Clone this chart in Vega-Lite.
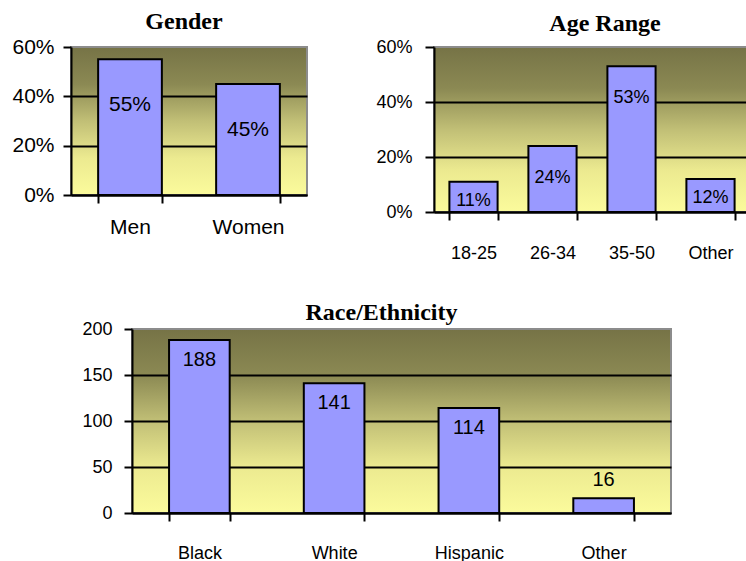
{
  "$schema": "https://vega.github.io/schema/vega-lite/v6.json",
  "padding": {"left": 7, "top": 9, "right": 0, "bottom": 0},
  "background": "white",
  "datasets": {
    "gender": [{"gender": "Men", "share": 0.55}, {"gender": "Women", "share": 0.45}],
    "age": [{"age": "18-25", "share": 0.11}, {"age": "26-34", "share": 0.24}, {"age": "35-50", "share": 0.53}, {"age": "Other", "share": 0.12}],
    "race": [{"race": "Black", "count": 188}, {"race": "White", "count": 141}, {"race": "Hispanic", "count": 114}, {"race": "Other", "count": 16}]
  },
  "spacing": 37,
  "vconcat": [
    {
      "spacing": 66,
      "hconcat": [
        {
          "width": 236,
          "height": 148,
          "title": {"text": "Gender", "font": "Liberation Serif", "fontSize": 24, "fontWeight": "bold", "color": "black", "baseline": "alphabetic", "frame": "group", "offset": -17, "dx": -5},
          "view": {"fill": {"gradient": "linear", "x1": 0, "y1": 0, "x2": 0, "y2": 1, "stops": [{"offset": 0, "color": "#767346"}, {"offset": 0.25, "color": "#8b8953"}, {"offset": 0.5, "color": "#c1bf76"}, {"offset": 0.75, "color": "#ecea90"}, {"offset": 1, "color": "#fbfb9c"}]}, "stroke": "#8c8c8c", "strokeWidth": 2},
          "data": {"name": "gender"},
          "encoding": {
            "x": {"field": "gender", "type": "nominal", "sort": null, "scale": {"paddingInner": 0.46, "paddingOuter": 0.23},
              "axis": {"title": null, "domainColor": "black", "domainWidth": 2, "tickBand": "extent", "tickColor": "black", "tickWidth": 2, "tickSize": 8, "labelAngle": 0, "labelFont": "Liberation Sans", "labelFontSize": 21, "labelColor": "black", "labelBaseline": "alphabetic", "labelPadding": 30, "grid": false}},
            "y": {"field": "share", "type": "quantitative", "scale": {"domain": [0, 0.6]},
              "axis": {"title": null, "values": [0, 0.2, 0.4, 0.6], "format": ".0%", "domainColor": "black", "domainWidth": 2, "tickColor": "black", "tickWidth": 2, "tickSize": 8, "labelFont": "Liberation Sans", "labelFontSize": 21, "labelColor": "black", "labelPadding": 9, "labelBaseline": "middle", "grid": true, "gridColor": "black", "gridWidth": 2, "gridOpacity": {"condition": {"test": "datum.value >= 0.59", "value": 0}, "value": 1}, "minExtent": 63}}
          },
          "layer": [
            {"mark": {"type": "bar", "fill": "#9999ff", "stroke": "black", "strokeWidth": 2}},
            {"mark": {"type": "text", "baseline": "middle", "dy": 46, "font": "Liberation Sans", "fontSize": 21, "color": "black"},
              "encoding": {"text": {"field": "share", "format": ".0%"}}}
          ]
        },
        {
          "width": 316,
          "height": 165,
          "title": {"text": "Age Range", "font": "Liberation Serif", "fontSize": 24, "fontWeight": "bold", "color": "black", "baseline": "alphabetic", "frame": "group", "offset": -17, "dx": 13},
          "view": {"fill": {"gradient": "linear", "x1": 0, "y1": 0, "x2": 0, "y2": 1, "stops": [{"offset": 0, "color": "#767346"}, {"offset": 0.25, "color": "#8b8953"}, {"offset": 0.5, "color": "#c1bf76"}, {"offset": 0.75, "color": "#ecea90"}, {"offset": 1, "color": "#fbfb9c"}]}, "stroke": "#8c8c8c", "strokeWidth": 2},
          "data": {"name": "age"},
          "encoding": {
            "x": {"field": "age", "type": "nominal", "sort": null, "scale": {"paddingInner": 0.39, "paddingOuter": 0.195},
              "axis": {"title": null, "domainColor": "black", "domainWidth": 2, "tickBand": "extent", "tickColor": "black", "tickWidth": 2, "tickSize": 8, "labelAngle": 0, "labelFont": "Liberation Sans", "labelFontSize": 18, "labelColor": "black", "labelBaseline": "alphabetic", "labelPadding": 38, "grid": false}},
            "y": {"field": "share", "type": "quantitative", "scale": {"domain": [0, 0.6]},
              "axis": {"title": null, "values": [0, 0.2, 0.4, 0.6], "format": ".0%", "domainColor": "black", "domainWidth": 2, "tickColor": "black", "tickWidth": 2, "tickSize": 9, "labelFont": "Liberation Sans", "labelFontSize": 18, "labelColor": "black", "labelPadding": 13, "labelBaseline": "middle", "grid": true, "gridColor": "black", "gridWidth": 2, "gridOpacity": {"condition": {"test": "datum.value >= 0.59", "value": 0}, "value": 1}, "minExtent": 57}}
          },
          "layer": [
            {"mark": {"type": "bar", "fill": "#9999ff", "stroke": "black", "strokeWidth": 2}},
            {"transform": [{"filter": "datum.share <= 0.15"}],
              "mark": {"type": "text", "baseline": "middle", "dy": 19, "font": "Liberation Sans", "fontSize": 18, "color": "black"},
              "encoding": {"text": {"field": "share", "format": ".0%"}}},
            {"transform": [{"filter": "datum.share > 0.15"}],
              "mark": {"type": "text", "baseline": "middle", "dy": 32, "font": "Liberation Sans", "fontSize": 18, "color": "black"},
              "encoding": {"text": {"field": "share", "format": ".0%"}}}
          ]
        }
      ]
    },
    {
      "spacing": 0,
      "hconcat": [
        {
          "width": 5,
          "height": 10,
          "view": {"stroke": null, "fill": null},
          "data": {"values": []},
          "mark": {"type": "text"},
          "encoding": {}
        },
        {
          "width": 539,
          "height": 184,
          "title": {"text": "Race/Ethnicity", "font": "Liberation Serif", "fontSize": 24, "fontWeight": "bold", "color": "black", "baseline": "alphabetic", "frame": "group", "offset": -24, "dx": -20},
          "view": {"fill": {"gradient": "linear", "x1": 0, "y1": 0, "x2": 0, "y2": 1, "stops": [{"offset": 0, "color": "#767346"}, {"offset": 0.25, "color": "#8b8953"}, {"offset": 0.5, "color": "#c1bf76"}, {"offset": 0.75, "color": "#ecea90"}, {"offset": 1, "color": "#fbfb9c"}]}, "stroke": "#8c8c8c", "strokeWidth": 2},
          "data": {"name": "race"},
          "encoding": {
            "x": {"field": "race", "type": "nominal", "sort": null, "scale": {"paddingInner": 0.55, "paddingOuter": 0.275},
              "axis": {"title": null, "domainColor": "black", "domainWidth": 2, "tickBand": "extent", "tickColor": "black", "tickWidth": 2, "tickSize": 8, "labelAngle": 0, "labelFont": "Liberation Sans", "labelFontSize": 18, "labelColor": "black", "labelBaseline": "alphabetic", "labelPadding": 37, "grid": false}},
            "y": {"field": "count", "type": "quantitative", "scale": {"domain": [0, 200]},
              "axis": {"title": null, "values": [0, 50, 100, 150, 200], "domainColor": "black", "domainWidth": 2, "tickColor": "black", "tickWidth": 2, "tickSize": 8, "labelFont": "Liberation Sans", "labelFontSize": 18, "labelColor": "black", "labelPadding": 12, "labelBaseline": "middle", "grid": true, "gridColor": "black", "gridWidth": 2, "gridOpacity": {"condition": {"test": "datum.value >= 199", "value": 0}, "value": 1}, "minExtent": 55}}
          },
          "layer": [
            {"mark": {"type": "bar", "fill": "#9999ff", "stroke": "black", "strokeWidth": 2}},
            {"transform": [{"filter": "datum.count > 30"}],
              "mark": {"type": "text", "baseline": "middle", "dy": 20, "font": "Liberation Sans", "fontSize": 20, "color": "black"},
              "encoding": {"text": {"field": "count", "type": "quantitative"}}},
            {"transform": [{"filter": "datum.count <= 30"}],
              "mark": {"type": "text", "baseline": "middle", "dy": -18, "font": "Liberation Sans", "fontSize": 20, "color": "black"},
              "encoding": {"text": {"field": "count", "type": "quantitative"}}}
          ]
        }
      ]
    }
  ]
}
